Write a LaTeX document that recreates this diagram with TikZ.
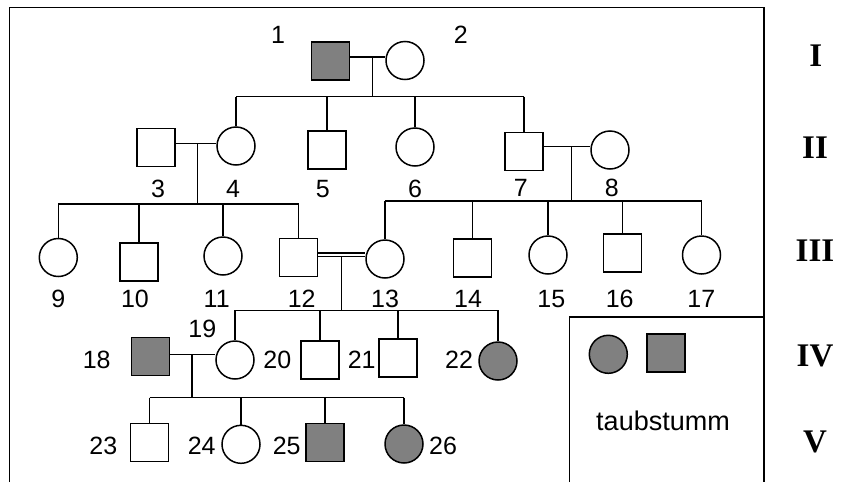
\documentclass[tikz,border=0pt]{standalone}
\usepackage{fontspec}
\setmainfont{Liberation Sans}
\newfontfamily\genfont{Liberation Serif}
\usetikzlibrary{positioning}

\begin{document}
\begin{tikzpicture}[x=1pt, y=-1pt,
    male/.style={draw=black, line width=1.5pt, rectangle, minimum size=38pt, inner sep=0pt},
    female/.style={draw=black, line width=1.5pt, circle, minimum size=38pt, inner sep=0pt},
    sick/.style={fill=gray},
    link/.style={line width=1.5pt},
    num/.style={font=\fontsize{25}{25}\selectfont, inner sep=0pt},
    gen/.style={font=\genfont\bfseries\fontsize{33}{33}\selectfont, inner sep=0pt}
]
\useasboundingbox (0,0) rectangle (846,482);

% === Frame and legend box ===
\draw[link] (9.5,482) -- (9.5,7.5) -- (764,7.5) -- (764,482);
\draw[link] (569.7,482) -- (569.7,317) -- (764,317);

% === Generation I ===
\node[male, sick] (p1) at (330.5,61) {};
\node[female] (p2) at (405,60.5) {};
\node[num] at (278,35) {1};
\node[num] at (460.7,35) {2};

% === Generation II ===
\node[male] (p3) at (156,147.5) {};
\node[female] (p4) at (236,146) {};
\node[male] (p5) at (327,150) {};
\node[female] (p6) at (415,147) {};
\node[male] (p7) at (524,151.5) {};
\node[female] (p8) at (610,150) {};
\node[num] at (158,189) {3};
\node[num] at (233,189) {4};
\node[num] at (322.7,189) {5};
\node[num] at (415,189) {6};
\node[num] at (520.7,188) {7};
\node[num] at (611.7,188) {8};

% === Generation III ===
\node[female] (p9) at (58.3,257.5) {};
\node[male] (p10) at (139,262) {};
\node[female] (p11) at (223,256) {};
\node[male] (p12) at (298.5,257.5) {};
\node[female] (p13) at (385,259) {};
\node[male] (p14) at (472.5,258) {};
\node[female] (p15) at (548,255) {};
\node[male] (p16) at (622.5,253) {};
\node[female] (p17) at (701.5,255) {};
\node[num] at (58.3,299) {9};
\node[num] at (135,299) {10};
\node[num] at (216.7,299) {11};
\node[num] at (301.7,299) {12};
\node[num] at (385,299) {13};
\node[num] at (468,299) {14};
\node[num] at (551.3,299) {15};
\node[num] at (619.7,299) {16};
\node[num] at (701.3,299) {17};

% === Generation IV ===
\node[male, sick] (p18) at (150.5,356.5) {};
\node[female] (p19) at (235,360) {};
\node[male] (p20) at (320,360) {};
\node[male] (p21) at (398,358) {};
\node[female, sick] (p22) at (498,361) {};
\node[num] at (96.7,360) {18};
\node[num] at (202.3,329) {19};
\node[num] at (277.3,360) {20};
\node[num] at (361.7,360) {21};
\node[num] at (459,360) {22};

% === Generation V ===
\node[male] (p23) at (149.5,442.7) {};
\node[female] (p24) at (241,444.3) {};
\node[male, sick] (p25) at (325,442.7) {};
\node[female, sick] (p26) at (404,444) {};
\node[num] at (103.3,446) {23};
\node[num] at (201.7,446) {24};
\node[num] at (286.7,446) {25};
\node[num] at (443,446) {26};

% === Marriages and descent lines ===
\coordinate (m12) at (372.7,57);
\coordinate (s12) at (372.7,96.7);
\draw[link] (p1.east |- m12) -- (p2.west |- m12);
\draw[link] (m12) -- (s12);
\draw[link] (p4.north |- s12) -- (p7.north |- s12);
\foreach \c in {p4,p5,p6,p7} \draw[link] (\c.north |- s12) -- (\c.north);

\coordinate (m34) at (197.7,143.3);
\coordinate (s34) at (197.7,204);
\draw[link] (p3.east |- m34) -- (p4.west |- m34);
\draw[link] (m34) -- (s34);
\draw[link] (p9.north |- s34) -- (p12.north |- s34);
\foreach \c in {p9,p10,p11,p12} \draw[link] (\c.north |- s34) -- (\c.north);

\coordinate (m78) at (571.3,146.7);
\coordinate (s78) at (571.3,201);
\draw[link] (p7.east |- m78) -- (p8.west |- m78);
\draw[link] (m78) -- (s78);
\draw[link] (p13.north |- s78) -- (p17.north |- s78);
\foreach \c in {p13,p14,p15,p16,p17} \draw[link] (\c.north |- s78) -- (\c.north);

% consanguineous marriage 12 x 13
\coordinate (m1213) at (341.7,256.7);
\coordinate (s1213) at (341.7,310.3);
\draw[link] (p12.east |- 0,253.2) -- (p13.west |- 0,253.2);
\draw[link] (p12.east |- m1213) -- (p13.west |- m1213);
\draw[link] (m1213) -- (s1213);
\draw[link] (p19.north |- s1213) -- (p22.north |- s1213);
\foreach \c in {p19,p20,p21,p22} \draw[link] (\c.north |- s1213) -- (\c.north);

\coordinate (m1819) at (192,354.3);
\coordinate (s1819) at (192,397.7);
\draw[link] (p18.east |- m1819) -- (p19.west |- m1819);
\draw[link] (m1819) -- (s1819);
\draw[link] (p23.north |- s1819) -- (p26.north |- s1819);
\foreach \c in {p23,p24,p25,p26} \draw[link] (\c.north |- s1819) -- (\c.north);

% === Legend ===
\node[female, sick] (lf) at (608.3,354.3) {};
\node[male, sick] (lm) at (665.8,353) {};
\node[font=\fontsize{27}{27}\selectfont, inner sep=0pt] (ltext) at (663,421) {taubstumm};

% === Generation numerals ===
\node[gen] (g1) at (815.7,55.5) {I};
\node[gen] (g2) at (815,147.5) {II};
\node[gen] (g3) at (815,251) {III};
\node[gen] (g4) at (815,356) {IV};
\node[gen] (g5) at (815,442) {V};

\end{tikzpicture}
\end{document}
